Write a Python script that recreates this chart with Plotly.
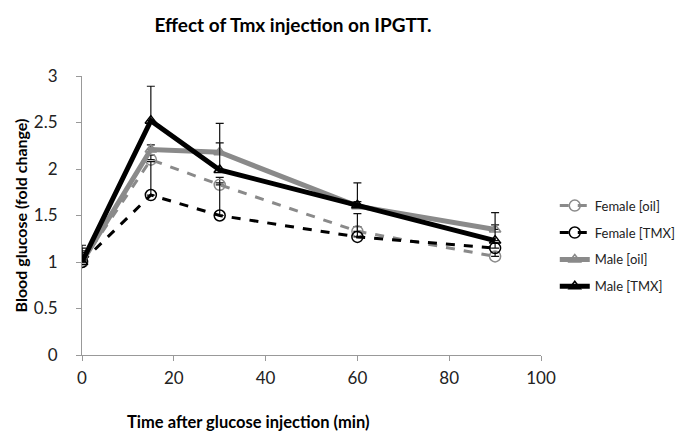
import plotly.graph_objects as go

time_min = [0, 15, 30, 60, 90]

female_oil = [1.0, 2.10, 1.83, 1.33, 1.06]
female_tmx = [1.0, 1.72, 1.50, 1.27, 1.15]
male_oil = [1.0, 2.21, 2.18, 1.60, 1.35]
male_tmx = [1.0, 2.52, 1.99, 1.61, 1.23]

female_oil_err = [0.10, 0.05, 0.08, 0.05, 0.05]
female_tmx_err = [0.12, 0.36, 0.35, 0.25, 0.05]
male_oil_err = [0.15, 0.05, 0.10, 0.05, 0.05]
male_tmx_err = [0.18, 0.37, 0.50, 0.24, 0.30]

series_names = ["Female [oil]", "Female [TMX]", "Male [oil]", "Male [TMX]"]

GRAY = "#8a8a8a"
BLACK = "#000000"
FONT = "Lato"

# page body has an 8px margin; compensate so the plot lands where the reference has it
OFF = 8
L, T, PW, PH = 82 - OFF, 76 - OFF, 459, 279
W, H = 700, 447

specs = [
    (series_names[0], female_oil, female_oil_err, GRAY, "dash", 3, "circle-open", 11),
    (series_names[1], female_tmx, female_tmx_err, BLACK, "dash", 3, "circle-open", 11),
    (series_names[2], male_oil, male_oil_err, GRAY, "solid", 5, "triangle-up-open", 10),
    (series_names[3], male_tmx, male_tmx_err, BLACK, "solid", 5, "triangle-up-open", 10),
]

fig = go.Figure()
for i, (name, vals, err, col, dash, w, sym, ms) in enumerate(specs):
    fig.add_trace(go.Scatter(
        x=time_min, y=vals, name=name, mode="lines+markers",
        line=dict(color=col, dash=dash, width=w),
        marker=dict(symbol=sym, size=ms, color=col, line=dict(color=col, width=1.5)),
        error_y=dict(type="data", array=err, arrayminus=[0] * len(err), symmetric=False,
                     color="#111111", thickness=1.2, width=4),
        legendgroup="g%d" % i,
    ))

fig.update_layout(
    width=W, height=H,
    margin=dict(l=L, r=W - L - PW, t=T, b=H - T - PH, autoexpand=False),
    paper_bgcolor="white", plot_bgcolor="white",
    font=dict(family=FONT, color="#222222"),
    title=dict(text="<b>Effect of Tmx injection on IPGTT.</b>", x=(293 - OFF) / W, xanchor="center",
               y=1 - (25 - OFF) / H, yanchor="middle", font=dict(size=19, color="#000000", family=FONT)),
    showlegend=True,
    legend=dict(x=1.03, y=0.589, xanchor="left", yanchor="top", bgcolor="rgba(0,0,0,0)",
                font=dict(size=13, family=FONT, color="#222222"), tracegroupgap=7,
                itemwidth=30),
    xaxis=dict(range=[0, 100], tickvals=[0, 20, 40, 60, 80, 100], showgrid=False, zeroline=False,
               showline=True, linecolor="#999999", linewidth=1, ticks="outside", ticklen=5,
               tickcolor="#999999", tickfont=dict(size=17, color="#222222"), ticklabelstandoff=3),
    yaxis=dict(range=[0, 3], tickvals=[0, 0.5, 1, 1.5, 2, 2.5, 3], ticktext=["0", "0.5", "1", "1.5", "2", "2.5", "3"],
               showgrid=False, zeroline=False, showline=True, linecolor="#999999", linewidth=1,
               ticks="outside", ticklen=5, tickcolor="#999999", tickfont=dict(size=17, color="#222222"),
               ticklabelstandoff=15),
)

fig.add_annotation(text="<b>Time after glucose injection (min)</b>", xref="paper", yref="paper",
                   x=(248 - 82) / PW, y=-(422 - 355) / PH, xanchor="center", yanchor="middle",
                   showarrow=False, font=dict(size=16.5, color="#000000", family=FONT))
fig.add_annotation(text="<b>Blood glucose (fold change)</b>", xref="paper", yref="paper",
                   x=-(82 - 20) / PW, y=0.5, xanchor="center", yanchor="middle", textangle=-90,
                   showarrow=False, font=dict(size=16, color="#000000", family=FONT))

fig.write_html("out.html")
